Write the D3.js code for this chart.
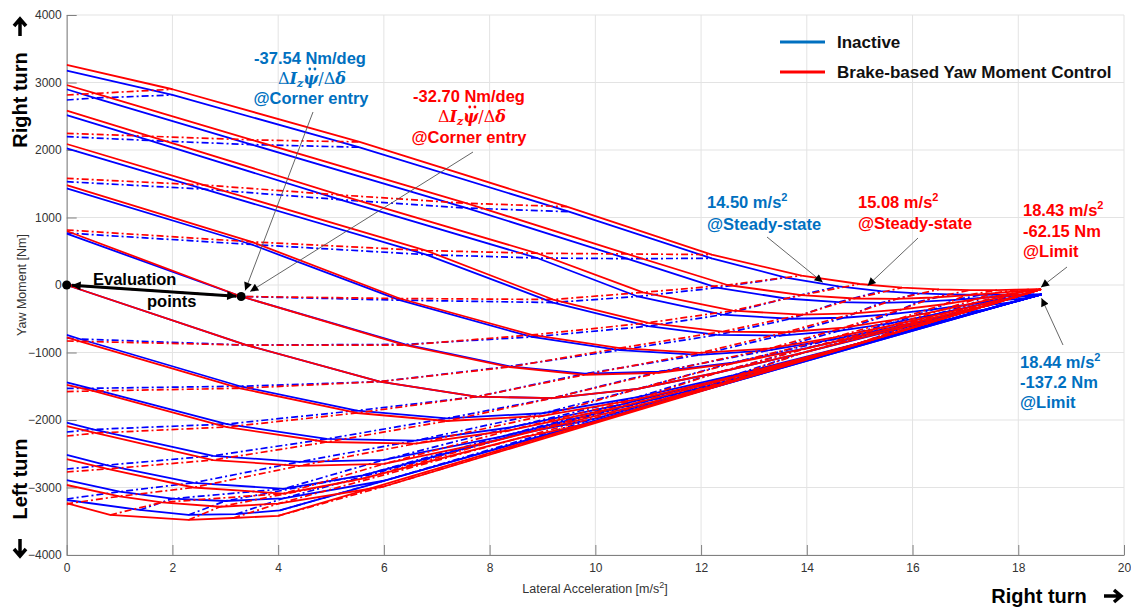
<!DOCTYPE html>
<html>
<head>
<meta charset="utf-8">
<script src="https://cdn.jsdelivr.net/npm/d3@7"></script>
<style>
  body { margin: 0; background: #fff; }
  svg { display: block; font-family: "Liberation Sans", Arial, sans-serif; }
</style>
</head>
<body>
<svg id="chart" width="1131" height="608"></svg>
<script>
// ---- axis ticks ----
const xTicks = [0, 2, 4, 6, 8, 10, 12, 14, 16, 18, 20];
const yTicks = [-4000, -3000, -2000, -1000, 0, 1000, 2000, 3000, 4000];

// ---- yaw moment diagram grid, brake-based yaw moment control (red) ----
// Mz [Nm] where each constant-steer line (solid) and constant-sideslip line (dash-dot) crosses ay = 0
const redSolidStart = [3260, 2963, 2582, 2089, 1481, 800, 0, -775, -1481, -2089, -2578, -2963, -3230];
const redDashStart = [2815, 2247, 1580, 815, null, -830, -1580, -2237, -2770, -3259, null, null, null, null];
const redLimit = [18.43, -62.15];
// redNodes[i][j] = [ay, Mz] where solid line i meets dash-dot line j
const redNodes = [
  [[2.0,2900],[5.54,2119],[9.46,1160],[12.2,450],[13.9,140],[15.0,15],[15.8,-40],[16.5,-65],[17.1,-75],[17.6,-75],[17.95,-70],[18.2,-66],[18.35,-63],[18.43,-62.15]],
  [[0.54,2838],[3.5,2150],[7.57,1210],[10.6,460],[12.5,0],[13.9,-150],[14.9,-200],[15.7,-205],[16.4,-185],[17.0,-155],[17.5,-125],[17.9,-98],[18.2,-78],[18.38,-75]],
  [null,[1.58,2203],[5.17,1333],[8.9,470],[10.9,-110],[12.6,-380],[13.9,-440],[14.9,-420],[15.8,-360],[16.6,-285],[17.2,-210],[17.7,-150],[18.1,-100],[18.3,-95]],
  [null,null,[2.6,1481],[6.8,510],[9.2,-215],[11.0,-560],[12.4,-690],[13.6,-700],[14.7,-630],[15.7,-510],[16.5,-380],[17.2,-260],[17.8,-160],[18.15,-130]],
  [null,null,null,[3.5,640],[6.3,-200],[8.8,-740],[10.46,-935],[11.97,-1007],[13.3,-940],[14.5,-780],[15.6,-600],[16.6,-420],[17.5,-250],[17.9,-190]],
  [null,null,null,null,[3.3,-170],[6.4,-890],[8.38,-1215],[9.8,-1330],[11.2,-1300],[12.6,-1160],[14.0,-940],[15.4,-680],[16.9,-390],[17.4,-310]],
  [null,null,null,null,[0,0],[3.4,-890],[5.92,-1432],[7.75,-1655],[9.19,-1675],[10.8,-1540],[12.3,-1300],[13.9,-1010],[15.9,-610],[16.7,-470]],
  [null,null,null,null,null,[0.25,-835],[3.28,-1530],[5.49,-1896],[7.19,-2015],[9.0,-1940],[10.8,-1690],[12.6,-1360],[15.0,-860],[15.8,-680]],
  [null,null,null,null,null,null,[0.5,-1570],[3.03,-2104],[4.92,-2326],[6.6,-2350],[8.4,-2150],[10.5,-1800],[13.5,-1190],[14.3,-1030]],
  [null,null,null,null,null,null,null,[0.56,-2193],[2.77,-2593],[4.4,-2680],[6.0,-2650],[8.2,-2290],[11.5,-1650],[12.6,-1420]],
  [null,null,null,null,null,null,null,null,[0.77,-2725],[2.4,-3000],[4.1,-3090],[5.6,-2870],[8.6,-2260],[10.0,-2030]],
  [null,null,null,null,null,null,null,null,null,[1.0,-3130],[1.8,-3220],[2.9,-3285],[4.0,-3240],[6.0,-2985]],
  [null,null,null,null,null,null,null,null,null,[0.03,-3238],[0.82,-3407],[2.3,-3481],[3.15,-3452],[4.0,-3420]]
];

// ---- yaw moment diagram grid, control inactive (blue) ----
const blueSolidStart = [3175, 2900, 2518, 2025, 1432, 760, 0, -740, -1441, -2040, -2518, -2889, -3185];
const blueDashStart = [2741, 2198, 1531, 770, null, -785, -1530, -2178, -2726, -3170, null, null, null, null];
const blueLimit = [18.44, -137.2];
const blueNodes = [
  [[2.0,2815],[5.54,2040],[9.5,1086],[12.2,395],[13.6,110],[14.6,-20],[15.4,-90],[16.1,-125],[16.7,-140],[17.3,-145],[17.8,-143],[18.1,-140],[18.3,-138],[18.44,-137.2]],
  [[0.54,2770],[3.5,2080],[7.57,1140],[10.6,390],[12.3,-40],[13.6,-200],[14.6,-255],[15.4,-265],[16.1,-250],[16.8,-220],[17.3,-190],[17.8,-165],[18.15,-150],[18.38,-155]],
  [null,[1.58,2140],[5.17,1265],[8.9,400],[10.8,-170],[12.4,-440],[13.7,-500],[14.7,-485],[15.6,-430],[16.4,-360],[17.1,-285],[17.6,-220],[18.05,-170],[18.3,-170]],
  [null,null,[2.6,1420],[6.8,450],[9.2,-260],[11.0,-610],[12.3,-740],[13.5,-750],[14.6,-680],[15.6,-565],[16.4,-440],[17.1,-320],[17.75,-220],[18.15,-200]],
  [null,null,null,[3.5,600],[6.3,-225],[8.8,-770],[10.46,-965],[11.97,-1035],[13.3,-965],[14.5,-805],[15.6,-630],[16.6,-455],[17.5,-290],[17.9,-255]],
  [null,null,null,null,[3.3,-170],[6.4,-880],[8.38,-1205],[9.8,-1315],[11.2,-1285],[12.6,-1150],[14.0,-935],[15.4,-690],[16.9,-420],[17.4,-360]],
  [null,null,null,null,[0,0],[3.4,-890],[5.92,-1432],[7.75,-1655],[9.19,-1675],[10.8,-1540],[12.3,-1300],[13.9,-1010],[15.9,-620],[16.7,-505]],
  [null,null,null,null,null,[0.25,-800],[3.28,-1500],[5.49,-1860],[7.19,-1975],[9.0,-1900],[10.8,-1660],[12.6,-1340],[15.0,-860],[15.8,-700]],
  [null,null,null,null,null,null,[0.45,-1530],[3.03,-2060],[4.92,-2280],[6.6,-2305],[8.4,-2110],[10.5,-1770],[13.5,-1180],[14.3,-1030]],
  [null,null,null,null,null,null,null,[0.5,-2140],[2.77,-2530],[4.4,-2620],[6.0,-2590],[8.2,-2250],[11.5,-1620],[12.6,-1400]],
  [null,null,null,null,null,null,null,null,[0.75,-2670],[2.4,-2930],[4.1,-3020],[5.6,-2820],[8.6,-2200],[10.0,-1980]],
  [null,null,null,null,null,null,null,null,null,[1.0,-3062],[2.0,-3165],[3.0,-3200],[4.1,-3160],[6.0,-2900]],
  [null,null,null,null,null,null,null,null,null,null,[1.38,-3333],[2.3,-3407],[3.2,-3395],[4.03,-3340]]
];

// evaluation points (origin and corner entry) on the diagram
const evalPoints = [[0, 0], [3.3, -170]];

// ---- layout ----
const svg = d3.select("#chart");
const plot = { left: 66.7, right: 1124, top: 15, bottom: 555 };
const x = d3.scaleLinear().domain([0, 20]).range([plot.left, plot.right]);
const y = d3.scaleLinear().domain([-4000, 4000]).range([plot.bottom, plot.top]);

const BLUE = "#0000ff", RED = "#ff0000";
const TXT_BLUE = "#0070c0", TXT_RED = "#ff0000";

// grid
const grid = svg.append("g").attr("stroke", "#e3e3e3").attr("stroke-width", 1);
grid.selectAll(".gx").data(xTicks).join("line")
  .attr("x1", d => x(d)).attr("x2", d => x(d)).attr("y1", plot.top).attr("y2", plot.bottom);
grid.selectAll(".gy").data(yTicks).join("line")
  .attr("x1", plot.left).attr("x2", plot.right).attr("y1", d => y(d)).attr("y2", d => y(d));

// axes (ticks point inward)
const fmt = d3.format("d");
const xAxis = svg.append("g").attr("transform", `translate(0,${plot.bottom})`)
  .call(d3.axisBottom(x).tickValues(xTicks).tickFormat(fmt).tickSizeInner(-10).tickSizeOuter(0).tickPadding(8));
const yAxis = svg.append("g").attr("transform", `translate(${plot.left},0)`)
  .call(d3.axisLeft(y).tickValues(yTicks).tickFormat(fmt).tickSizeInner(-10).tickSizeOuter(0).tickPadding(5));
[xAxis, yAxis].forEach(g => {
  g.select(".domain").attr("stroke", "#808080");
  g.selectAll(".tick line").attr("stroke", "#808080");
  g.selectAll(".tick text").attr("fill", "#333").attr("font-size", 12)
    .attr("font-family", "'Liberation Sans', Arial, sans-serif");
});

// axis titles
const xTitle = svg.append("text").attr("x", 595).attr("y", 593).attr("text-anchor", "middle")
  .attr("font-size", 12.5).attr("fill", "#333");
xTitle.append("tspan").text("Lateral Acceleration [m/s");
xTitle.append("tspan").text("2").attr("font-size", 9).attr("dy", -5);
xTitle.append("tspan").text("]").attr("dy", 5);

svg.append("text").attr("transform", "translate(26,285) rotate(-90)")
  .attr("text-anchor", "middle").attr("font-size", 12.5).attr("fill", "#333")
  .text("Yaw Moment [Nm]");

// ---- curves ----
svg.append("clipPath").attr("id", "plotClip").append("rect")
  .attr("x", plot.left).attr("y", plot.top)
  .attr("width", plot.right - plot.left).attr("height", plot.bottom - plot.top);

const line = d3.line().x(d => x(d[0])).y(d => y(d[1]));
const curves = svg.append("g").attr("clip-path", "url(#plotClip)").attr("fill", "none");

function solidLines(nodes, starts, limit) {
  return starts.map((s, i) => {
    const pts = [[0, s]];
    nodes[i].forEach(p => { if (p) pts.push(p); });
    pts.push(limit);
    return pts;
  });
}
function dashLines(nodes, starts) {
  return starts.map((s, j) => {
    const pts = [];
    if (s !== null) pts.push([0, s]);
    for (let i = nodes.length - 1; i >= 0; i--) if (nodes[i][j]) pts.push(nodes[i][j]);
    return pts;
  }).filter(p => p.length > 1);
}

function drawSet(nodes, solidStart, dashStart, limit, color) {
  curves.append("g").selectAll("path").data(dashLines(nodes, dashStart)).join("path")
    .attr("d", line).attr("stroke", color).attr("stroke-width", 1.7)
    .attr("stroke-dasharray", "7,3,2,3");
  curves.append("g").selectAll("path").data(solidLines(nodes, solidStart, limit)).join("path")
    .attr("d", line).attr("stroke", color).attr("stroke-width", 1.8)
    .attr("stroke-linejoin", "round");
}
drawSet(blueNodes, blueSolidStart, blueDashStart, blueLimit, BLUE);
drawSet(redNodes, redSolidStart, redDashStart, redLimit, RED);

// ---- arrowheads ----
const defs = svg.append("defs");
defs.append("marker").attr("id", "tip").attr("viewBox", "0 0 10 10")
  .attr("refX", 10).attr("refY", 5).attr("markerWidth", 10).attr("markerHeight", 8)
  .attr("markerUnits", "userSpaceOnUse").attr("orient", "auto")
  .append("path").attr("d", "M0,0 L10,5 L0,10 z").attr("fill", "#000");
defs.append("marker").attr("id", "tipBig").attr("viewBox", "0 0 10 10")
  .attr("refX", 10).attr("refY", 5).attr("markerWidth", 11).attr("markerHeight", 9)
  .attr("markerUnits", "userSpaceOnUse").attr("orient", "auto-start-reverse")
  .append("path").attr("d", "M0,0 L10,5 L0,10 z").attr("fill", "#000");

// evaluation points with double arrow
const e0 = [x(evalPoints[0][0]), y(evalPoints[0][1])];
const e1 = [x(evalPoints[1][0]), y(evalPoints[1][1])];
const ang = Math.atan2(e1[1] - e0[1], e1[0] - e0[0]);
const off = 5;
svg.append("line")
  .attr("x1", e0[0] + off * Math.cos(ang)).attr("y1", e0[1] + off * Math.sin(ang))
  .attr("x2", e1[0] - off * Math.cos(ang)).attr("y2", e1[1] - off * Math.sin(ang))
  .attr("stroke", "#000").attr("stroke-width", 3)
  .attr("marker-start", "url(#tipBig)").attr("marker-end", "url(#tipBig)");
svg.selectAll(".evdot").data(evalPoints).join("circle")
  .attr("cx", d => x(d[0])).attr("cy", d => y(d[1])).attr("r", 4.5).attr("fill", "#000");

// callout leaders
function leader(x1, y1, target, dx, dy) {
  svg.append("line").attr("x1", x1).attr("y1", y1)
    .attr("x2", x(target[0]) + dx).attr("y2", y(target[1]) + dy)
    .attr("stroke", "#555").attr("stroke-width", 0.9).attr("marker-end", "url(#tip)");
}
leader(313, 112, evalPoints[1], 4, -6);
leader(473, 152, evalPoints[1], 9, -5);
leader(767, 237, [14.3, 40], 0, 0);
leader(918, 238, [15.15, -10], 0, 0);
leader(1067, 267, redLimit, 0, -2);
leader(1063, 345, blueLimit, 0, 4);

// ---- text annotations ----
function label(xp, yp, str, color, size, anchor) {
  return svg.append("text").attr("x", xp).attr("y", yp).attr("fill", color)
    .attr("font-size", size).attr("font-weight", "bold")
    .attr("text-anchor", anchor || "start").text(str);
}
function withSup(xp, yp, main, sup, color) {
  const t = svg.append("text").attr("x", xp).attr("y", yp).attr("fill", color)
    .attr("font-size", 16.5).attr("font-weight", "bold");
  t.append("tspan").text(main);
  t.append("tspan").text(sup).attr("font-size", 11).attr("dy", -7);
  return t;
}
// ΔI_z ψ̈ / Δδ, with the double dot drawn as two small circles over ψ
function formula(cx, yp, color) {
  const g = svg.append("g").attr("fill", color);
  const t = g.append("text").attr("x", cx).attr("y", yp)
    .attr("text-anchor", "middle").attr("font-size", 16)
    .attr("font-family", "'DejaVu Serif', 'Liberation Serif', serif");
  t.append("tspan").text("Δ");
  t.append("tspan").text("I").attr("font-style", "italic").attr("font-weight", "bold");
  t.append("tspan").text("z").attr("font-style", "italic").attr("font-weight", "bold")
    .attr("font-size", 11).attr("dy", 3);
  t.append("tspan").text("ψ").attr("font-style", "italic").attr("font-weight", "bold").attr("dy", -3);
  t.append("tspan").text("/Δ");
  t.append("tspan").text("δ").attr("font-style", "italic").attr("font-weight", "bold");
  const n = t.node();
  const start = n.getStartPositionOfChar(3), end = n.getEndPositionOfChar(3);
  const mid = (start.x + end.x) / 2 + 1.5;
  [-2.6, 2.6].forEach(dx => g.append("circle").attr("cx", mid + dx).attr("cy", yp - 15).attr("r", 1.4));
}

label(310, 64, "-37.54 Nm/deg", TXT_BLUE, 16.5, "middle");
formula(312, 84, TXT_BLUE);
label(311, 104, "@Corner entry", TXT_BLUE, 16.5, "middle");

label(469, 102, "-32.70 Nm/deg", TXT_RED, 16.5, "middle");
formula(472, 122, TXT_RED);
label(469, 143, "@Corner entry", TXT_RED, 16.5, "middle");

withSup(707, 208, "14.50 m/s", "2", TXT_BLUE);
label(707, 230, "@Steady-state", TXT_BLUE, 16.5);
withSup(858, 208, "15.08 m/s", "2", TXT_RED);
label(858, 229, "@Steady-state", TXT_RED, 16.5);

withSup(1023, 216, "18.43 m/s", "2", TXT_RED);
label(1023, 237, "-62.15 Nm", TXT_RED, 16.5);
label(1023, 257, "@Limit", TXT_RED, 16.5);

withSup(1020, 368, "18.44 m/s", "2", TXT_BLUE);
label(1020, 388, "-137.2 Nm", TXT_BLUE, 16.5);
label(1020, 408, "@Limit", TXT_BLUE, 16.5);

label(93, 285, "Evaluation", "#000", 16.5);
label(147, 307, "points", "#000", 16.5);

// ---- legend ----
const legend = [
  { name: "Inactive", color: TXT_BLUE, y: 42 },
  { name: "Brake-based Yaw Moment Control", color: RED, y: 72 }
];
const lg = svg.append("g");
lg.selectAll("line").data(legend).join("line")
  .attr("x1", 780).attr("x2", 825).attr("y1", d => d.y).attr("y2", d => d.y)
  .attr("stroke", d => d.color).attr("stroke-width", 3);
lg.selectAll("text").data(legend).join("text")
  .attr("x", 837).attr("y", d => d.y + 6).attr("font-size", 17).attr("font-weight", "bold")
  .attr("fill", "#111").text(d => d.name);

// ---- turn direction labels ----
function bigArrow(cx, cy, rot) {
  svg.append("path").attr("transform", `translate(${cx},${cy}) rotate(${rot})`)
    .attr("d", "M-9,0 L7,0 M1,-6 L8,0 L1,6").attr("fill", "none")
    .attr("stroke", "#000").attr("stroke-width", 3.5).attr("stroke-linejoin", "miter");
}
svg.append("text").attr("transform", "translate(27,100) rotate(-90)")
  .attr("text-anchor", "middle").attr("font-size", 20).attr("font-weight", "bold").text("Right turn");
bigArrow(20, 27, -90);
svg.append("text").attr("transform", "translate(27,479) rotate(-90)")
  .attr("text-anchor", "middle").attr("font-size", 20).attr("font-weight", "bold").text("Left turn");
bigArrow(20, 548, 90);
svg.append("text").attr("x", 1039).attr("y", 603).attr("text-anchor", "middle")
  .attr("font-size", 20).attr("font-weight", "bold").text("Right turn");
bigArrow(1113, 596, 0);
</script>
</body>
</html>
